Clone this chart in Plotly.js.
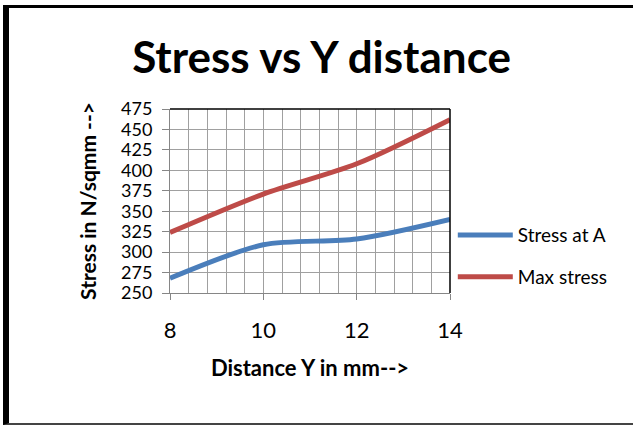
<!DOCTYPE html>
<html>
<head>
<meta charset="utf-8">
<script src="https://cdn.plot.ly/plotly-3.0.1.min.js"></script>
<style>
html,body{margin:0;padding:0;background:#fff;}
#wrap{position:relative;width:633px;height:425px;overflow:hidden;}
#chart{width:633px;height:425px;}
#frame{position:absolute;left:3px;top:5px;width:640px;height:415px;border-left:6px solid #000;border-top:3px solid #000;border-bottom:2px solid #444;pointer-events:none;}
</style>
</head>
<body>
<div id="wrap"><div id="chart"></div><div id="frame"></div></div>
<script>
const distance = [8, 10, 12, 14];
const stressAtA = [268, 309, 316, 340];
const maxStress = [324, 371, 408, 462];
const seriesNames = ["Stress at A", "Max stress"];
const yTicks = [250, 275, 300, 325, 350, 375, 400, 425, 450, 475];
const xTicks = [8, 10, 12, 14];

const FONT = "Lato, 'Open Sans', sans-serif";

const traces = [
  {x: distance, y: stressAtA, name: seriesNames[0], mode: "lines", legendgroup: "a",
   line: {color: "#4A7EBB", width: 5, shape: "spline", smoothing: 0.8}},
  {x: distance, y: maxStress, name: seriesNames[1], mode: "lines", legendgroup: "b",
   line: {color: "#BE4B48", width: 5, shape: "spline", smoothing: 0.8}}
];

const layout = {
  width: 633, height: 425,
  margin: {l: 170, r: 183, t: 109, b: 132},
  paper_bgcolor: "#fff", plot_bgcolor: "#fff",
  font: {family: FONT, color: "#000"},
  title: {text: "<b>Stress vs Y distance</b>", font: {family: FONT, size: 44, color: "#000"},
          x: 0.508, xanchor: "center", y: 0.865, yanchor: "middle"},
  xaxis: {
    range: [8, 14], tickvals: xTicks, ticktext: xTicks.map(String),
    ticks: "outside", ticklen: 6, tickcolor: "#868686",
    showline: true, linecolor: "#868686", linewidth: 1,
    showgrid: true, gridcolor: "#A0A0A0", gridwidth: 1,
    minor: {dtick: 0.4, tick0: 8, showgrid: true, gridcolor: "#A0A0A0", gridwidth: 1, ticks: ""},
    tickfont: {family: FONT, size: 22}, ticklabelstandoff: 12,
    zeroline: false,
    title: {text: "<b>Distance Y in mm--></b>", font: {family: FONT, size: 22}, standoff: 18}
  },
  yaxis: {
    range: [250, 475], tickvals: yTicks,
    ticks: "outside", ticklen: 7, tickcolor: "#868686",
    showline: true, linecolor: "#868686", linewidth: 1,
    showgrid: true, gridcolor: "#A0A0A0", gridwidth: 1,
    tickfont: {family: FONT, size: 18}, ticklabelstandoff: 6,
    zeroline: false,
    title: {text: "<b>Stress in N/sqmm --></b>", font: {family: FONT, size: 21}, standoff: 18}
  },
  showlegend: true,
  legend: {x: 1.01, xanchor: "left", y: 0.2, yanchor: "middle",
           font: {family: FONT, size: 19}, traceorder: "grouped", tracegroupgap: 14,
           bgcolor: "rgba(0,0,0,0)", itemwidth: 55},
  shapes: [
    {type: "line", xref: "paper", yref: "paper", x0: 0, x1: 1, y0: 1, y1: 1, line: {color: "#000", width: 1.5}},
    {type: "line", xref: "paper", yref: "paper", x0: 1, x1: 1, y0: 0, y1: 1, line: {color: "#000", width: 1.5}}
  ]
};

Plotly.newPlot("chart", traces, layout, {displayModeBar: false, staticPlot: true});
</script>
</body>
</html>
